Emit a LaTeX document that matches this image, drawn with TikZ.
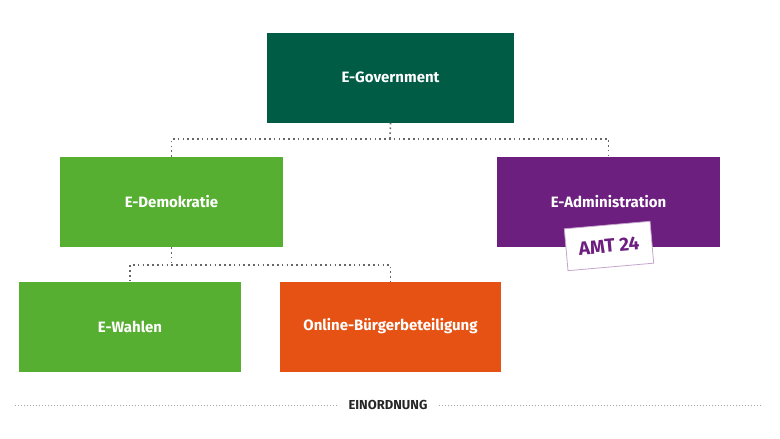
\documentclass[tikz,border=0pt]{standalone}
\usepackage{fontspec}
\setmainfont{Fira Sans}
\begin{document}
\begin{tikzpicture}[x=1pt,y=-1pt,
  box/.style={draw=none,minimum width=223pt,minimum height=90pt,inner sep=0pt,text=white,font=\bfseries\fontsize{15}{18}\selectfont},
  dots/.style={draw=gray!80!black,line width=1.6pt,dash pattern=on 1.6pt off 3.2pt}]
\definecolor{dgreen}{HTML}{005C45}
\definecolor{lgreen}{HTML}{56AF31}
\definecolor{purp}{HTML}{6D1F80}
\definecolor{orng}{HTML}{E65214}
\useasboundingbox (0,0) rectangle (780,439);
\node[box,fill=dgreen,minimum width=247pt] (gov) at (390.5,77.5) {E-Government};
\node[box,fill=lgreen] (dem) at (171.5,202) {E-Demokratie};
\node[box,fill=purp] (adm) at (608.5,202) {E-Administration};
\node[box,fill=lgreen,minimum width=222pt] (wah) at (130,326.5) {E-Wahlen};
\node[box,fill=orng,minimum width=221pt] (onl) at (390.5,326.5) {Online-Bürgerbeteiligung};
\coordinate (j1) at (390,139);
\coordinate (j2) at (171.5,265);
\draw[dots] (gov.south) -- (j1);
\draw[dots] (dem.north) -- (171.5,139) -- (608.5,139) -- (adm.north);
\draw[dots] (dem.south) -- (j2);
\draw[dots] (wah.north) |- (j2) -| (onl.north);
\node[rotate=5,fill=white,draw=purp!40,line width=0.8pt,minimum width=86pt,minimum height=42pt,text=purp,font=\bfseries\fontsize{19}{22}\selectfont] (amt) at (609,246) {AMT 24};
\node[font=\bfseries\fontsize{13}{16}\selectfont,text=black!85] (ein) at (388,405) {EINORDNUNG};
\coordinate (l0) at (15,405);
\coordinate (r0) at (760,405);
\draw[gray!70,line width=0.8pt,dash pattern=on 1pt off 2pt] (l0) -- ([xshift=-8pt]ein.west);
\draw[gray!70,line width=0.8pt,dash pattern=on 1pt off 2pt] ([xshift=8pt]ein.east) -- (r0);
\end{tikzpicture}
\end{document}
